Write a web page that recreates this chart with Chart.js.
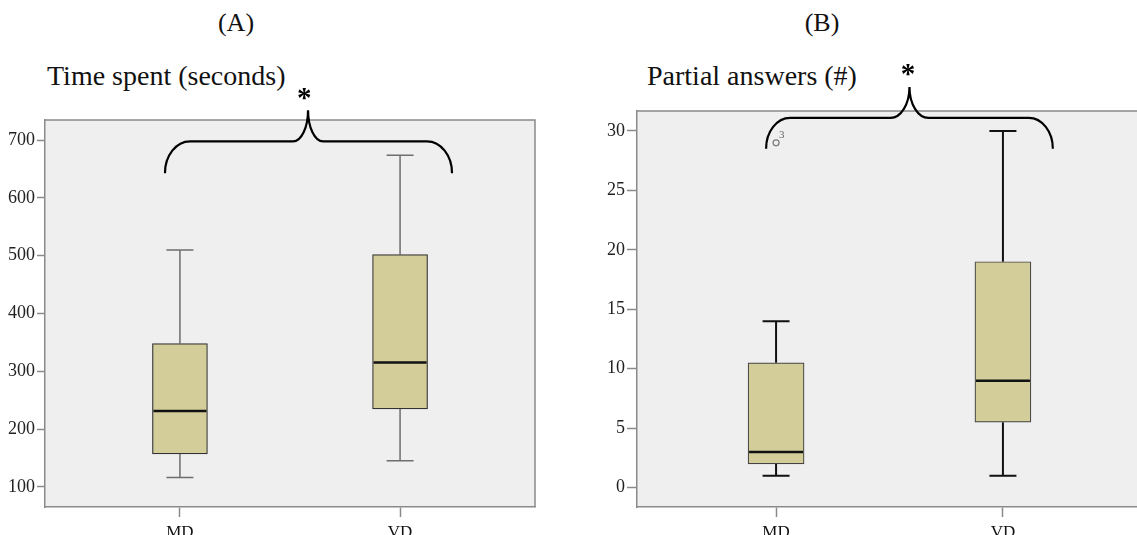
<!DOCTYPE html>
<html>
<head>
<meta charset="utf-8">
<script src="https://cdn.jsdelivr.net/npm/chart.js@4.4.1/dist/chart.umd.min.js"></script>
<style>
  html, body { margin: 0; padding: 0; background: #fff; overflow: hidden; }
  body { width: 1137px; height: 535px; position: relative; }
  canvas { position: absolute; top: 0; }
  #chartA { left: 0; }
  #chartB { left: 592px; }
  .txt { position: absolute; font-family: "Liberation Serif", "Times New Roman", serif; color: #111; line-height: 1; white-space: nowrap; }
  .panel { font-size: 26px; width: 100px; text-align: center; top: 10px; }
  .sub { font-size: 28px; top: 62px; }
</style>
</head>
<body>
<div class="txt panel" style="left:186px">(A)</div>
<div class="txt panel" style="left:772px">(B)</div>
<div class="txt sub" style="left:47px">Time spent (seconds)</div>
<div class="txt sub" style="left:647px">Partial answers (#)</div>
<canvas id="chartA" width="560" height="535"></canvas>
<canvas id="chartB" width="560" height="535"></canvas>
<script>
// Groups on the horizontal axis
const categories = ['MD', 'VD'];

// Time spent (seconds): five-number summaries per group
const timeMin    = [116, 145];
const timeQ1     = [157, 235];
const timeMedian = [231, 315];
const timeQ3     = [348, 502];
const timeMax    = [510, 674];
const timeTicks  = [100, 200, 300, 400, 500, 600, 700];

// Partial answers (#): five-number summaries per group
const partialMin    = [1, 1];
const partialQ1     = [2, 5.5];
const partialMedian = [3, 9];
const partialQ3     = [10.5, 19];
const partialMax    = [14, 30];
const partialOutlierGroup = [0];
const partialOutlierValue = [29];
const partialOutlierCase  = ['3'];
const partialTicks  = [0, 5, 10, 15, 20, 25, 30];

const SERIF = '"Liberation Serif", "Times New Roman", serif';
const FRAME = '#8a8a8a';

// Fills the plot area and draws the top/right frame lines
const framePlugin = {
  id: 'frame',
  beforeDraw(chart) {
    const { ctx, chartArea: a } = chart;
    ctx.save();
    ctx.fillStyle = '#efefef';
    ctx.fillRect(a.left, a.top, a.right - a.left, a.bottom - a.top);
    ctx.restore();
  },
  afterDraw(chart) {
    const { ctx, chartArea: a } = chart;
    ctx.save();
    ctx.strokeStyle = FRAME;
    ctx.lineWidth = 1.5;
    ctx.beginPath();
    ctx.moveTo(a.left, a.top);
    ctx.lineTo(a.right, a.top);
    ctx.lineTo(a.right, a.bottom);
    ctx.stroke();
    ctx.restore();
  }
};

// Whiskers, medians and outliers of the box plot, placed through the chart scales
const boxPlugin = {
  id: 'boxparts',
  beforeDatasetsDraw(chart, args, opts) {
    const { ctx, scales: { x, y } } = chart;
    ctx.save();
    ctx.strokeStyle = opts.whiskerColor;
    ctx.lineWidth = opts.whiskerWidth;
    opts.min.forEach((_, i) => {
      const cx = x.getPixelForValue(i);
      const half = opts.capWidth / 2;
      [[opts.q1[i], opts.min[i]], [opts.q3[i], opts.max[i]]].forEach(([from, to]) => {
        ctx.beginPath();
        ctx.moveTo(cx, y.getPixelForValue(from));
        ctx.lineTo(cx, y.getPixelForValue(to));
        ctx.moveTo(cx - half, y.getPixelForValue(to));
        ctx.lineTo(cx + half, y.getPixelForValue(to));
        ctx.stroke();
      });
    });
    ctx.restore();
  },
  afterDatasetsDraw(chart, args, opts) {
    const { ctx, scales: { x, y } } = chart;
    const meta = chart.getDatasetMeta(0);
    ctx.save();
    ctx.strokeStyle = '#111';
    ctx.lineWidth = opts.medianWidth;
    opts.median.forEach((m, i) => {
      const bar = meta.data[i];
      const py = y.getPixelForValue(m);
      ctx.beginPath();
      ctx.moveTo(bar.x - bar.width / 2 + 1, py);
      ctx.lineTo(bar.x + bar.width / 2 - 1, py);
      ctx.stroke();
    });
    (opts.outlierGroup || []).forEach((g, i) => {
      const px = x.getPixelForValue(g);
      const py = y.getPixelForValue(opts.outlierValue[i]);
      ctx.strokeStyle = '#777';
      ctx.lineWidth = 1.2;
      ctx.beginPath();
      ctx.arc(px, py, 3, 0, Math.PI * 2);
      ctx.stroke();
      ctx.fillStyle = '#666';
      ctx.font = '11px ' + SERIF;
      ctx.textAlign = 'left';
      ctx.textBaseline = 'middle';
      ctx.fillText(opts.outlierCase[i], px + 3, py - 8);
    });
    ctx.restore();
  }
};

// Curly brace with a significance star spanning both groups
const bracePlugin = {
  id: 'brace',
  afterDraw(chart, args, b) {
    const { ctx, scales: { x, y } } = chart;
    const xL = x.getPixelForValue(b.from);
    const xR = x.getPixelForValue(b.to);
    const xP = x.getPixelForValue(b.peak);
    const yE = y.getPixelForValue(b.end);
    const yH = y.getPixelForValue(b.level);
    const yT = y.getPixelForValue(b.tip);
    const r1x = b.endRadius, r1y = yE - yH;
    const r2x = b.midRadius, r2y = yH - yT;
    ctx.save();
    ctx.strokeStyle = '#000';
    ctx.lineWidth = 2.2;
    ctx.beginPath();
    ctx.ellipse(xL + r1x, yE, r1x, r1y, 0, Math.PI, 1.5 * Math.PI, false);
    ctx.lineTo(xP - r2x, yH);
    ctx.ellipse(xP - r2x, yT, r2x, r2y, 0, Math.PI / 2, 0, true);
    ctx.ellipse(xP + r2x, yT, r2x, r2y, 0, Math.PI, Math.PI / 2, true);
    ctx.lineTo(xR - r1x, yH);
    ctx.ellipse(xR - r1x, yE, r1x, r1y, 0, 1.5 * Math.PI, 2 * Math.PI, false);
    ctx.stroke();
    // star above the tip
    ctx.fillStyle = '#000';
    ctx.font = 'bold 29px ' + SERIF;
    const m = ctx.measureText('*');
    const sx = x.getPixelForValue(b.starX);
    const sy = y.getPixelForValue(b.star);
    ctx.textAlign = 'center';
    ctx.textBaseline = 'alphabetic';
    ctx.fillText('*', sx, sy + (m.actualBoundingBoxAscent - m.actualBoundingBoxDescent) / 2);
    ctx.restore();
  }
};

function makeBoxChart(id, s) {
  return new Chart(document.getElementById(id), {
    type: 'bar',
    data: {
      datasets: [{
        data: categories.map((c, i) => ({ x: i, y: [s.q1[i], s.q3[i]] })),
        backgroundColor: '#d3ce99',
        borderColor: s.boxBorder,
        borderWidth: 1.2,
        borderSkipped: false,
        barThickness: s.boxWidth
      }]
    },
    plugins: [framePlugin, boxPlugin, bracePlugin],
    options: {
      responsive: false,
      animation: false,
      devicePixelRatio: 1,
      layout: { padding: { left: 0, top: s.padTop, right: s.padRight, bottom: 0 } },
      plugins: {
        legend: { display: false },
        tooltip: { enabled: false },
        boxparts: {
          min: s.min, q1: s.q1, median: s.median, q3: s.q3, max: s.max,
          whiskerColor: s.whiskerColor, whiskerWidth: s.whiskerWidth,
          capWidth: 27, medianWidth: 2.5,
          outlierGroup: s.outlierGroup, outlierValue: s.outlierValue, outlierCase: s.outlierCase
        },
        brace: s.brace
      },
      scales: {
        x: {
          type: 'linear',
          offset: false,
          min: -0.613, max: 1.613,
          afterBuildTicks: (sc) => { sc.ticks = categories.map((c, i) => ({ value: i })); },
          afterFit: (sc) => { sc.height = 28; },
          ticks: {
            callback: (v) => categories[v],
            font: { family: SERIF, size: 17 },
            color: '#111',
            padding: 5,
            maxRotation: 0
          },
          grid: { display: true, offset: false, drawOnChartArea: false, tickLength: 10, tickColor: FRAME, tickWidth: 1.5 },
          border: { display: true, color: FRAME, width: 1.5 }
        },
        y: {
          min: s.yMin, max: s.yMax,
          afterBuildTicks: (sc) => { sc.ticks = s.ticks.map(v => ({ value: v })); },
          afterFit: (sc) => { sc.width = 45; },
          ticks: {
            font: { family: SERIF, size: 18 },
            color: '#222',
            padding: 2
          },
          grid: { display: true, drawOnChartArea: false, tickLength: s.tickLen, tickColor: FRAME, tickWidth: 1.5 },
          border: { display: true, color: FRAME, width: 1.5 }
        }
      }
    }
  });
}

makeBoxChart('chartA', {
  min: timeMin, q1: timeQ1, median: timeMedian, q3: timeQ3, max: timeMax,
  ticks: timeTicks, yMin: 65, yMax: 735,
  padTop: 120, padRight: 25, tickLen: 8,
  boxWidth: 55, boxBorder: '#333', whiskerColor: '#6e6e6e', whiskerWidth: 1.5,
  brace: { from: -0.068, to: 1.236, peak: 0.582, end: 643, level: 698, tip: 752,
           endRadius: 25, midRadius: 15, starX: 0.565, star: 780 }
});

makeBoxChart('chartB', {
  min: partialMin, q1: partialQ1, median: partialMedian, q3: partialQ3, max: partialMax,
  ticks: partialTicks, yMin: -1.63, yMax: 31.68,
  padTop: 111, padRight: 10, tickLen: 10,
  boxWidth: 56, boxBorder: '#444', whiskerColor: '#111', whiskerWidth: 2,
  outlierGroup: partialOutlierGroup, outlierValue: partialOutlierValue, outlierCase: partialOutlierCase,
  brace: { from: -0.044, to: 1.22, peak: 0.588, end: 28.5, level: 31.1, tip: 33.7,
           endRadius: 24, midRadius: 19, starX: 0.581, star: 35.1 }
});
</script>
</body>
</html>
